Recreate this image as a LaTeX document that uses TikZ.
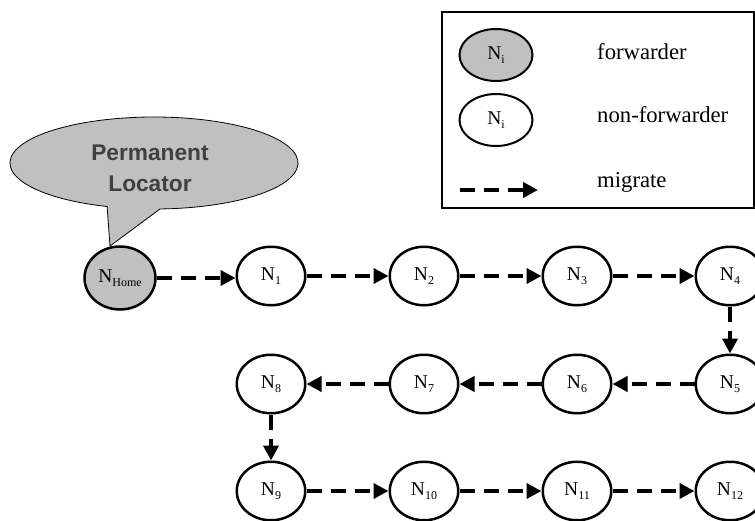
\documentclass[tikz,border=0pt]{standalone}
\usepackage{fontspec}
\setmainfont{Liberation Serif}
\newfontfamily\calloutfont{Liberation Sans}
\usetikzlibrary{arrows.meta,shapes.geometric}
\definecolor{fwdgray}{RGB}{192,192,192}
\definecolor{txtgray}{RGB}{64,64,64}
\newcommand{\nlab}[1]{\fontsize{19.5}{22}\selectfont N\raisebox{-4pt}{\fontsize{12}{14}\selectfont #1}}
\begin{document}
\begin{tikzpicture}[x=1pt,y=-1pt,
  nodeshape/.style={ellipse, draw, line width=2.5pt, minimum width=68.5pt, minimum height=58.5pt, inner sep=0pt},
  fwd/.style={nodeshape, fill=fwdgray},
  nonfwd/.style={nodeshape, fill=white},
  legnode/.style={nodeshape, line width=2pt, minimum width=73pt, minimum height=52pt},
  migr/.style={line width=4.5pt, dash pattern=on 15pt off 9pt, -{Triangle[length=15pt,width=15pt]}},
  legtext/.style={anchor=base west, font=\fontsize{22.7}{26}\selectfont, inner sep=0pt}]
\useasboundingbox (0,0) rectangle (755,520);

% callout
\filldraw[fill=fwdgray, draw=black, line width=0.8pt]
  (107.1,206.5) arc[start angle=109, end angle=447.6, x radius=144, y radius=46]
  -- (110,246) -- cycle;
\node[font=\calloutfont\bfseries\fontsize{22.7}{31}\selectfont, text=txtgray, align=center] (loc) at (150,168) {Permanent\\Locator};

% legend
\draw[line width=1.3pt] (442,12) rectangle (754,208);
\node[fwd, legnode] (lf) at (496,55) {\nlab{i}};
\node[nonfwd, legnode] (ln) at (496,120) {\nlab{i}};
\coordinate (la) at (460,190);
\coordinate (lb) at (538,190);
\draw[migr] (la) -- (lb);
\node[legtext] (tf) at (597,59) {forwarder};
\node[legtext] (tn) at (597,122) {non-forwarder};
\node[legtext] (tm) at (597,187) {migrate};

% nodes
\node[fwd, minimum width=71pt, minimum height=63pt] (home) at (120,278) {\nlab{Home}};
\node[nonfwd] (n1) at (271,276) {\nlab{1}};
\node[nonfwd] (n2) at (424,276) {\nlab{2}};
\node[nonfwd] (n3) at (577,276) {\nlab{3}};
\node[nonfwd] (n4) at (730,276) {\nlab{4}};
\node[nonfwd] (n5) at (730,384) {\nlab{5}};
\node[nonfwd] (n6) at (577,384) {\nlab{6}};
\node[nonfwd] (n7) at (424,384) {\nlab{7}};
\node[nonfwd] (n8) at (271,384) {\nlab{8}};
\node[nonfwd] (n9) at (271,491) {\nlab{9}};
\node[nonfwd] (n10) at (424,491) {\nlab{10}};
\node[nonfwd] (n11) at (577,491) {\nlab{11}};
\node[nonfwd] (n12) at (730,491) {\nlab{12}};

% migrations
\draw[migr] (home.east) -- (n1.west |- home.east);
\draw[migr] (n1) -- (n2);
\draw[migr] (n2) -- (n3);
\draw[migr] (n3) -- (n4);
\draw[migr] (n4) -- (n5);
\draw[migr] (n5) -- (n6);
\draw[migr] (n6) -- (n7);
\draw[migr] (n7) -- (n8);
\draw[migr] (n8) -- (n9);
\draw[migr] (n9) -- (n10);
\draw[migr] (n10) -- (n11);
\draw[migr] (n11) -- (n12);
\end{tikzpicture}
\end{document}
